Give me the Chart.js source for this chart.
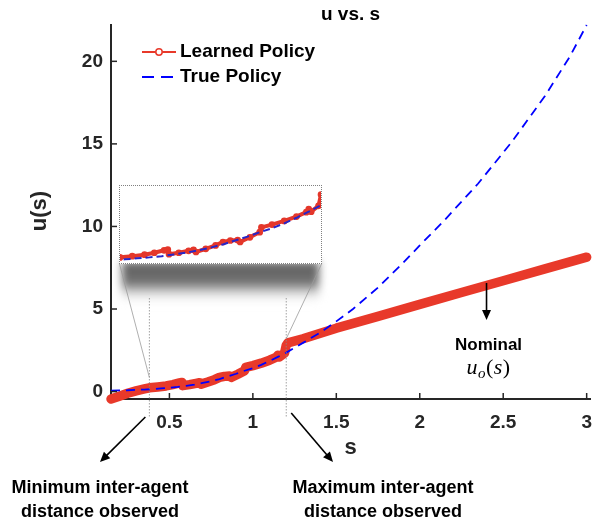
<!DOCTYPE html>
<html><head><meta charset="utf-8">
<script src="https://cdn.jsdelivr.net/npm/chart.js@4.4.1/dist/chart.umd.min.js"></script>
<style>
html,body{margin:0;padding:0;background:#fff;}
#wrap{position:relative;width:605px;height:525px;overflow:hidden;}
#main{position:absolute;left:0;top:0;}
#insetBox{position:absolute;left:119px;top:185px;width:203px;height:79px;border:1px dotted #808080;box-sizing:border-box;background:#fff;}
#inset{display:block;}
</style></head><body>
<div id="wrap">
<canvas id="main" width="605" height="525"></canvas>
<div id="insetBox"><canvas id="inset" width="201" height="77"></canvas></div>
</div>
<script>
// ---- data ----
const learnedS = [0.15,0.20,0.25,0.30,0.35,0.38,0.43,0.48,0.52,0.56,0.575,0.58,0.62,0.66,0.68,0.69,0.73,0.77,0.80,0.83,0.86,0.87,0.91,0.95,0.957,1.00,1.05,1.10,1.14,1.15,1.16,1.19,1.20,1.21,1.30,1.50,1.75,2.00,2.25,2.50,2.75,3.00];
const learnedU = [-0.45,-0.28,-0.10,0.04,0.16,0.23,0.28,0.34,0.42,0.52,0.55,0.36,0.42,0.50,0.54,0.45,0.58,0.72,0.86,0.92,0.94,0.86,1.05,1.26,1.46,1.57,1.72,1.90,2.08,2.20,2.10,2.34,2.80,2.95,3.20,3.84,4.55,5.28,6.00,6.71,7.43,8.14];
const trueS = [0.15,0.20,0.25,0.30,0.35,0.40,0.45,0.50,0.55,0.60,0.65,0.70,0.75,0.80,0.85,0.90,0.95,1.00,1.05,1.10,1.15,1.20,1.30,1.40,1.50,1.60,1.75,1.90,2.00,2.15,2.35,2.55,2.75,2.90,3.00];
const trueU = [0.06,0.07,0.08,0.10,0.12,0.15,0.19,0.23,0.28,0.35,0.42,0.52,0.63,0.76,0.92,1.08,1.26,1.42,1.62,1.85,2.10,2.36,2.95,3.55,4.25,5.00,6.30,7.80,8.85,10.40,12.60,15.10,17.90,20.30,22.20];
const xTicks = [0.5,1,1.5,2,2.5,3];
const yTicks = [0,5,10,15,20];
const obsMin = 0.38, obsMax = 1.2;   // observed inter-agent distance range
const nominalS = 2.4;

const FONT = '"Liberation Sans", Arial, Helvetica, sans-serif';
const RED = '#e8392a', BLUE = '#0000ff', AX = '#262626';
const toXY = (xs, ys) => xs.map((x, i) => ({x: x, y: ys[i]}));

function arrow(ctx, x1, y1, x2, y2) {
  const a = Math.atan2(y2 - y1, x2 - x1), L = 10, W = 4.5;
  ctx.beginPath(); ctx.moveTo(x1, y1);
  ctx.lineTo(x2 - L * Math.cos(a) * 0.8, y2 - L * Math.sin(a) * 0.8); ctx.stroke();
  ctx.beginPath(); ctx.moveTo(x2, y2);
  ctx.lineTo(x2 - L * Math.cos(a) + W * Math.sin(a), y2 - L * Math.sin(a) - W * Math.cos(a));
  ctx.lineTo(x2 - L * Math.cos(a) - W * Math.sin(a), y2 - L * Math.sin(a) + W * Math.cos(a));
  ctx.closePath(); ctx.fill();
}

const annot = {
  id: 'annot',
  afterDraw(chart) {
    const ctx = chart.ctx, xs = chart.scales.x, ys = chart.scales.y;
    const ca = chart.chartArea;
    ctx.save();
    // inward tick marks
    ctx.strokeStyle = AX; ctx.lineWidth = 1.5;
    xTicks.forEach(v => { const p = xs.getPixelForValue(v); ctx.beginPath(); ctx.moveTo(p, ca.bottom); ctx.lineTo(p, ca.bottom - 6); ctx.stroke(); });
    yTicks.forEach(v => { const p = ys.getPixelForValue(v); ctx.beginPath(); ctx.moveTo(ca.left, p); ctx.lineTo(ca.left + 6, p); ctx.stroke(); });

    // title and axis titles
    ctx.fillStyle = '#000'; ctx.textAlign = 'center'; ctx.textBaseline = 'middle';
    ctx.font = 'bold 19px ' + FONT;
    ctx.fillText('u vs. s', (ca.left + ca.right) / 2, 15);
    ctx.fillStyle = AX;
    ctx.font = 'bold 22px ' + FONT;
    ctx.fillText('s', (ca.left + ca.right) / 2, 448);
    ctx.save(); ctx.translate(40, 211); ctx.rotate(-Math.PI / 2); ctx.fillText('u(s)', 0, 0); ctx.restore();

    // legend
    ctx.lineWidth = 2; ctx.strokeStyle = RED;
    ctx.beginPath(); ctx.moveTo(142, 52); ctx.lineTo(176, 52); ctx.stroke();
    ctx.fillStyle = '#fff'; ctx.lineWidth = 1.5;
    ctx.beginPath(); ctx.arc(159, 52, 3.2, 0, Math.PI * 2); ctx.fill(); ctx.stroke();
    ctx.strokeStyle = BLUE; ctx.lineWidth = 2; ctx.setLineDash([12, 7]);
    ctx.beginPath(); ctx.moveTo(142, 77); ctx.lineTo(174, 77); ctx.stroke(); ctx.setLineDash([]);
    ctx.fillStyle = '#000'; ctx.textAlign = 'left'; ctx.font = 'bold 19px ' + FONT;
    ctx.fillText('Learned Policy', 180, 52);
    ctx.fillText('True Policy', 180, 77);

    // inset shadow
    ctx.save();
    ctx.filter = 'blur(4px)';
    const g = ctx.createLinearGradient(0, 262, 0, 304);
    g.addColorStop(0, 'rgba(92,92,92,1)'); g.addColorStop(0.5, 'rgba(108,108,108,0.95)'); g.addColorStop(1, 'rgba(255,255,255,0)');
    ctx.fillStyle = g; ctx.fillRect(122, 262, 197, 42);
    ctx.restore();

    // connector lines from the inset to the observed range
    const xa = xs.getPixelForValue(obsMin), xb = xs.getPixelForValue(obsMax);
    ctx.strokeStyle = '#9a9a9a'; ctx.lineWidth = 0.8;
    ctx.beginPath(); ctx.moveTo(119.5, 264); ctx.lineTo(xa, ys.getPixelForValue(0.85)); ctx.stroke();
    ctx.beginPath(); ctx.moveTo(321.5, 264); ctx.lineTo(xb, ys.getPixelForValue(3.2)); ctx.stroke();
    // vertical dotted lines
    ctx.strokeStyle = '#8a8a8a'; ctx.setLineDash([1.5, 1.5]);
    [xa, xb].forEach(p => { ctx.beginPath(); ctx.moveTo(p, 298); ctx.lineTo(p, 418); ctx.stroke(); });
    ctx.setLineDash([]);

    // arrows
    ctx.strokeStyle = '#000'; ctx.fillStyle = '#000'; ctx.lineWidth = 1.6;
    arrow(ctx, xa - 4, 417, 100, 462);
    arrow(ctx, xb + 5, 413, 333, 462);
    const xn = xs.getPixelForValue(nominalS);
    arrow(ctx, xn, 283, xn, 320);

    // annotation text
    ctx.textAlign = 'center'; ctx.textBaseline = 'middle';
    ctx.font = 'bold 18px ' + FONT;
    ctx.fillText('Minimum inter-agent', 100, 488);
    ctx.fillText('distance observed', 100, 512);
    ctx.fillText('Maximum inter-agent', 383, 488);
    ctx.fillText('distance observed', 383, 512);
    ctx.font = 'bold 17px ' + FONT;
    ctx.fillText('Nominal', xn + 2, 345);

    // u_o(s)
    ctx.textAlign = 'left'; ctx.textBaseline = 'alphabetic';
    const parts = [
      ['u', 'italic 22px "Liberation Serif", serif', 0],
      ['o', 'italic 15px "Liberation Serif", serif', 4],
      ['(', '22px "Liberation Serif", serif', 0],
      ['s', 'italic 22px "Liberation Serif", serif', 0],
      [')', '22px "Liberation Serif", serif', 0]
    ];
    let tw = 0;
    parts.forEach(p => { ctx.font = p[1]; tw += ctx.measureText(p[0]).width + 0.5; });
    let cx = xn + 2 - tw / 2;
    parts.forEach(p => { ctx.font = p[1]; ctx.fillText(p[0], cx, 374 + p[2]); cx += ctx.measureText(p[0]).width + 0.5; });
    ctx.restore();
  }
};

const tickFont = {family: FONT, size: 19, weight: 'bold'};
new Chart(document.getElementById('main'), {
  type: 'line',
  data: {datasets: [
    {label: 'True Policy', data: toXY(trueS, trueU), borderColor: BLUE, borderWidth: 1.8, borderDash: [9, 6], pointRadius: 0, tension: 0, fill: false, clip: false},
    {label: 'Learned Policy', data: toXY(learnedS, learnedU), borderColor: RED, borderWidth: 9.5, borderCapStyle: 'round', borderJoinStyle: 'round', pointRadius: 0, tension: 0, fill: false, clip: false}
  ]},
  options: {
    responsive: false, animation: false, events: [],
    layout: {padding: {left: 0, right: 15, top: 25, bottom: 0}},
    plugins: {legend: {display: false}, tooltip: {enabled: false}, title: {display: false}},
    scales: {
      x: {type: 'linear', min: 0.15, max: 3.02,
        afterBuildTicks: s => { s.ticks = xTicks.map(v => ({value: v})); },
        afterFit: s => { s.height = 126; },
        grid: {display: true, drawOnChartArea: false, drawTicks: false},
        border: {display: true, color: AX, width: 2},
        ticks: {font: tickFont, color: AX, padding: 12, maxRotation: 0, autoSkip: false, callback: v => String(v)}},
      y: {type: 'linear', min: -0.45, max: 22.2,
        afterBuildTicks: s => { s.ticks = yTicks.map(v => ({value: v})); },
        afterFit: s => { s.width = 111; },
        grid: {display: true, drawOnChartArea: false, drawTicks: false},
        border: {display: true, color: AX, width: 2},
        ticks: {font: tickFont, color: AX, padding: 8, autoSkip: false, callback: v => String(v)}}
    }
  },
  plugins: [annot]
});

new Chart(document.getElementById('inset'), {
  type: 'line',
  data: {datasets: [
    {data: toXY(trueS, trueU), borderColor: '#2626c8', borderWidth: 2, borderDash: [7, 4], pointRadius: 0, tension: 0, fill: false},
    {data: toXY(learnedS, learnedU), borderColor: '#e4372b', borderWidth: 4, pointRadius: 2.6, pointBorderWidth: 1.5, pointBorderColor: '#e4372b', pointBackgroundColor: '#e4372b', tension: 0, fill: false}
  ]},
  options: {
    responsive: false, animation: false, events: [],
    layout: {padding: 0, autoPadding: false},
    plugins: {legend: {display: false}, tooltip: {enabled: false}},
    scales: {x: {type: 'linear', display: false, min: 0.38, max: 1.2}, y: {type: 'linear', display: false, min: 0, max: 3.15}}
  }
});
</script>
</body></html>
